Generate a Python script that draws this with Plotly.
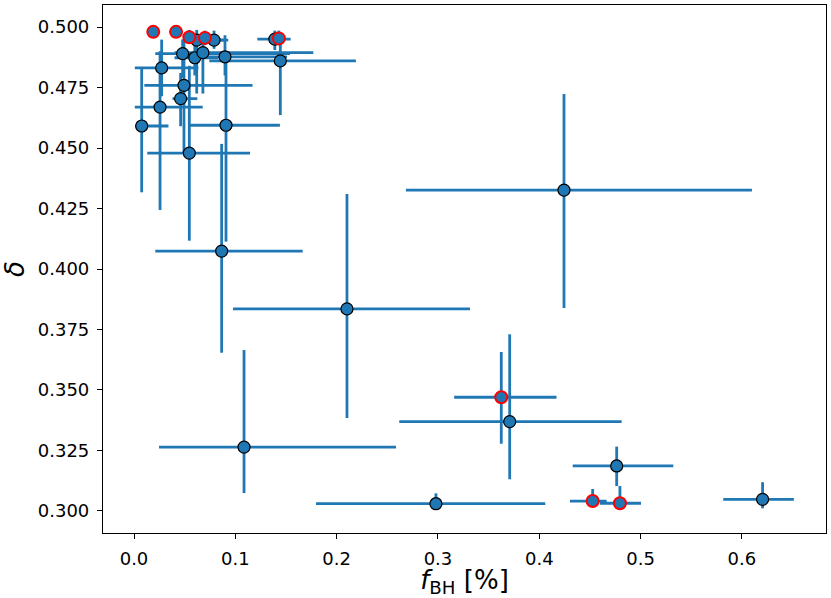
import numpy as np
import plotly.graph_objects as go

# black-edged points: value, lower and upper error bar ends
x_pts = [0.0619, 0.079, 0.139, 0.048, 0.060, 0.068, 0.0898, 0.1444, 0.0273, 0.0493,
         0.046, 0.0257, 0.0076, 0.0908, 0.0546, 0.0865, 0.1086, 0.2102, 0.4244, 0.3708,
         0.298, 0.4764, 0.6204]
x_lo = [0.050, 0.070, 0.1217, 0.021, 0.040, 0.040, 0.062, 0.0743, 0.0008, 0.0102,
        0.038, 0.0008, 0.001, 0.0536, 0.0131, 0.021, 0.0247, 0.0977, 0.2684, 0.2618,
        0.1796, 0.4330, 0.5816]
x_hi = [0.093, 0.089, 0.1546, 0.154, 0.083, 0.177, 0.151, 0.219, 0.0635, 0.117,
        0.0625, 0.0678, 0.034, 0.144, 0.1145, 0.1665, 0.2586, 0.3316, 0.6099, 0.4813,
        0.4059, 0.5323, 0.6513]
y_pts = [0.4946, 0.4946, 0.4950, 0.4890, 0.4873, 0.4894, 0.4877, 0.4860, 0.4831, 0.4759,
         0.4704, 0.4669, 0.4591, 0.4594, 0.4479, 0.4074, 0.3264, 0.3835, 0.4326, 0.3369,
         0.3030, 0.3186, 0.3048]
y_lo = [0.4725, 0.4910, 0.4905, 0.4790, 0.4800, 0.4725, 0.4800, 0.4636, 0.4714, 0.4478,
        0.4590, 0.4244, 0.4317, 0.4113, 0.4117, 0.3654, 0.3074, 0.3384, 0.3839, 0.3131,
        0.3005, 0.3103, 0.3011]
y_hi = [0.4988, 0.4985, 0.4985, 0.4949, 0.4930, 0.4977, 0.4966, 0.4966, 0.4948, 0.4948,
        0.4810, 0.4900, 0.4834, 0.4880, 0.4840, 0.4517, 0.3665, 0.4310, 0.4723, 0.3730,
        0.3073, 0.3266, 0.3119]

# red-edged points
xr_pts = [0.019, 0.0415, 0.0546, 0.070, 0.143, 0.3625, 0.4527, 0.4796]
xr_lo = [0.019, 0.0415, 0.050, 0.066, 0.137, 0.316, 0.4303, 0.4598]
xr_hi = [0.019, 0.0415, 0.060, 0.075, 0.149, 0.417, 0.4665, 0.5004]
yr_pts = [0.4980, 0.4980, 0.4958, 0.4955, 0.4953, 0.3470, 0.3041, 0.3032]
yr_lo = [0.4980, 0.4980, 0.4930, 0.4925, 0.4925, 0.3278, 0.3018, 0.3032]
yr_hi = [0.4980, 0.4980, 0.4988, 0.4985, 0.4985, 0.3657, 0.3091, 0.3103]

blue = '#1f77b4'


def errbars(v, lo, hi):
    v, lo, hi = np.array(v), np.array(lo), np.array(hi)
    return dict(type='data', symmetric=False, array=hi - v, arrayminus=v - lo,
                color=blue, thickness=2.8, width=0)


fig = go.Figure()
fig.add_trace(go.Scatter(
    x=x_pts, y=y_pts, mode='markers',
    error_x=errbars(x_pts, x_lo, x_hi),
    error_y=errbars(y_pts, y_lo, y_hi),
    marker=dict(color=blue, size=12, line=dict(color='black', width=1.2)),
    showlegend=False))
fig.add_trace(go.Scatter(
    x=xr_pts, y=yr_pts, mode='markers',
    error_x=errbars(xr_pts, xr_lo, xr_hi),
    error_y=errbars(yr_pts, yr_lo, yr_hi),
    marker=dict(color=blue, size=12, line=dict(color='red', width=2)),
    showlegend=False))

axis_style = dict(showgrid=False, zeroline=False, showline=True, linecolor='black',
                  linewidth=1.2, mirror=True, ticks='outside', ticklen=5,
                  tickcolor='black', tickfont=dict(size=18, color='black'),
                  ticklabelstandoff=4, automargin=False)

fig.update_xaxes(range=[-0.0306, 0.683], tickvals=[0, 0.1, 0.2, 0.3, 0.4, 0.5, 0.6],
                 tickformat='.1f',
                 title=dict(text='<i>f</i><sub>BH</sub> [%]', font=dict(size=26, color='black'),
                            standoff=2),
                 **axis_style)
fig.update_yaxes(range=[0.2909, 0.5091], dtick=0.025, tick0=0.3, tickformat='.3f',
                 title=dict(text='<i>δ</i>', font=dict(size=26, color='black'), standoff=6),
                 **axis_style)

fig.update_layout(width=831, height=598, plot_bgcolor='white', paper_bgcolor='white',
                  font=dict(family='DejaVu Sans'),
                  margin=dict(l=103, r=5, t=5, b=65))

# drop the browser's default page margin so the figure sits at the corner
fig.write_html("out.html", config={'displayModeBar': False},
               post_script="document.body.style.margin='0';")
